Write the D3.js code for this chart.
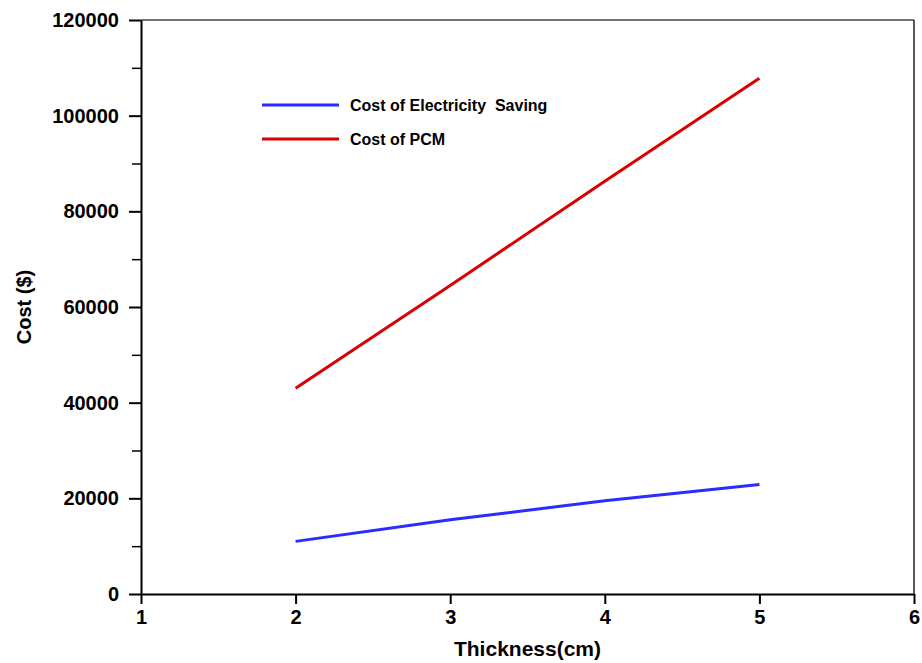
<!DOCTYPE html>
<html>
<head>
<meta charset="utf-8">
<script src="https://cdn.jsdelivr.net/npm/d3@7"></script>
<style>
  html, body { margin: 0; padding: 0; background: #fff; }
  svg { display: block; font-family: "Liberation Sans", Arial, sans-serif; font-weight: bold; }
</style>
</head>
<body>
<svg id="chart" width="922" height="663"></svg>
<script>
// Thickness of the PCM layer (cm)
const thickness = [2, 3, 4, 5];
// Cost of electricity saving ($)
const electricitySaving = [11000, 15500, 19500, 22900];
// Cost of PCM ($)
const pcmCost = [43000, 64500, 86300, 107800];

const xTicks = [1, 2, 3, 4, 5, 6];
const yTicks = [0, 20000, 40000, 60000, 80000, 100000, 120000];
const yMinorTicks = [10000, 30000, 50000, 70000, 90000, 110000];

const seriesNames = ["Cost of Electricity  Saving", "Cost of PCM"];
const seriesColors = ["#2b2bff", "#d80000"];

const svg = d3.select("#chart");
const margin = { left: 141, right: 8, top: 20, bottom: 69 };
const W = 922, H = 663;

const x = d3.scaleLinear().domain([1, 6]).range([margin.left, W - margin.right]);
const y = d3.scaleLinear().domain([0, 120000]).range([H - margin.bottom, margin.top]);

// frame: top and right edges
svg.append("line")
  .attr("x1", x(1)).attr("x2", x(6)).attr("y1", y(120000)).attr("y2", y(120000))
  .attr("stroke", "#444").attr("stroke-width", 1.5);
svg.append("line")
  .attr("x1", x(6)).attr("x2", x(6)).attr("y1", y(120000)).attr("y2", y(0))
  .attr("stroke", "#222").attr("stroke-width", 1.5);

// minor y ticks
svg.append("g")
  .attr("transform", `translate(${x(1)},0)`)
  .call(d3.axisLeft(y).tickValues(yMinorTicks).tickSize(9).tickFormat(""))
  .call(g => g.select(".domain").remove())
  .call(g => g.selectAll("line").attr("stroke", "#000").attr("stroke-width", 1.5));

// y axis
svg.append("g")
  .attr("transform", `translate(${x(1)},0)`)
  .call(d3.axisLeft(y).tickValues(yTicks).tickSize(12).tickPadding(10).tickSizeOuter(0).tickFormat(d3.format("d")))
  .call(g => g.select(".domain").attr("stroke", "#000").attr("stroke-width", 2))
  .call(g => g.selectAll("line").attr("stroke", "#000").attr("stroke-width", 2))
  .call(g => g.selectAll("text").attr("fill", "#000").style("font-size", "20px").style("font-weight", "bold")
    .attr("font-family", "Liberation Sans, Arial, sans-serif"));

// x axis
svg.append("g")
  .attr("transform", `translate(0,${y(0)})`)
  .call(d3.axisBottom(x).tickValues(xTicks).tickSize(10).tickPadding(6).tickSizeOuter(0).tickFormat(d3.format("d")))
  .call(g => g.select(".domain").attr("stroke", "#000").attr("stroke-width", 2))
  .call(g => g.selectAll("line").attr("stroke", "#000").attr("stroke-width", 2))
  .call(g => g.selectAll("text").attr("fill", "#000").style("font-size", "20px").style("font-weight", "bold")
    .attr("font-family", "Liberation Sans, Arial, sans-serif"));

// axis titles
svg.append("text")
  .attr("x", (x(1) + x(6)) / 2).attr("y", 656)
  .attr("text-anchor", "middle")
  .style("font-size", "21px")
  .text("Thickness(cm)");

svg.append("text")
  .attr("transform", `translate(31,${(y(0) + y(120000)) / 2}) rotate(-90)`)
  .attr("text-anchor", "middle")
  .style("font-size", "20px")
  .text("Cost ($)");

// series lines
const line = d3.line().x(d => x(d[0])).y(d => y(d[1]));
[electricitySaving, pcmCost].forEach((vals, i) => {
  svg.append("path")
    .datum(thickness.map((t, j) => [t, vals[j]]))
    .attr("d", line)
    .attr("fill", "none")
    .attr("stroke", seriesColors[i])
    .attr("stroke-width", 3);
});

// legend
const legend = svg.append("g").attr("transform", "translate(262,105)");
seriesNames.forEach((name, i) => {
  const row = legend.append("g").attr("transform", `translate(0,${i * 34})`);
  row.append("line").attr("x1", 0).attr("x2", 77).attr("y1", 0).attr("y2", 0)
    .attr("stroke", seriesColors[i]).attr("stroke-width", 3);
  row.append("text").attr("x", 88).attr("y", 6)
    .style("font-size", "16px")
    .style("white-space", "pre")
    .attr("xml:space", "preserve")
    .text(name);
});
</script>
</body>
</html>
